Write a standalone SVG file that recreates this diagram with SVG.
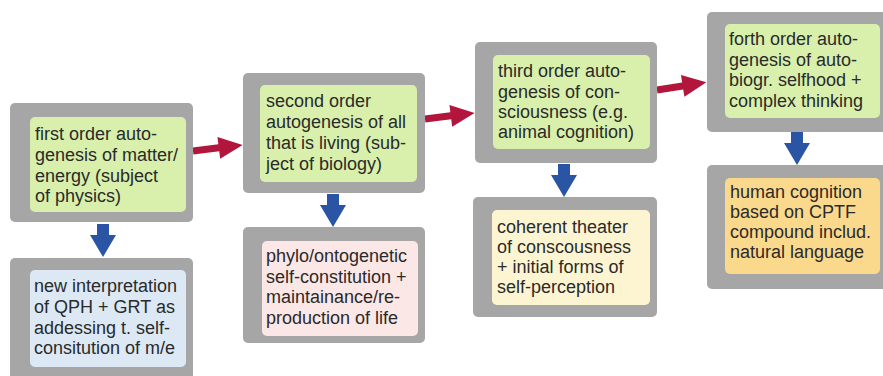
<svg xmlns="http://www.w3.org/2000/svg" width="883" height="376" viewBox="0 0 883 376">
  <style>
    .frame { fill: #a6a6a6; }
    .green { fill: #d8f0ac; }
    .blue { fill: #dce9f5; }
    .pink { fill: #fbe7e6; }
    .cream { fill: #fdf5d2; }
    .orange { fill: #fbd98c; }
    .label { font-family: "Liberation Sans", Arial, sans-serif; font-size: 18px; fill: #2a2a2a; }
    .next { fill: #b3163d; }
    .down { fill: #2a55a4; }
  </style>
  <defs>
    <!-- horizontal step arrow, 50 long, pointing along +x -->
    <path id="stepArrow" d="M0,-3.5 L26,-3.5 L26,-11 L50,0 L26,11 L26,3.5 L0,3.5 Z"/>
    <!-- vertical result arrow, 33 long, pointing down -->
    <path id="resultArrow" d="M-6,0 L6,0 L6,11 L13,11 L0,33 L-13,11 L-6,11 Z"/>
  </defs>
  <rect width="883" height="376" fill="#ffffff"/>

  <g id="connectors">
    <use href="#stepArrow" class="next" transform="translate(193,151) rotate(-7)"/>
    <use href="#stepArrow" class="next" transform="translate(425,119) rotate(-7)"/>
    <use href="#stepArrow" class="next" transform="translate(657,90) rotate(-9)"/>
    <use href="#resultArrow" class="down" transform="translate(103,224)"/>
    <use href="#resultArrow" class="down" transform="translate(333,194)"/>
    <use href="#resultArrow" class="down" transform="translate(564,164)"/>
    <use href="#resultArrow" class="down" transform="translate(797,132)"/>
  </g>

  <g id="first-order">
    <rect class="frame" x="10" y="103" width="183" height="119" rx="5"/>
    <rect class="green" x="30" y="117" width="156" height="95" rx="5"/>
    <text class="label">
      <tspan x="35" y="140">first order auto-</tspan>
      <tspan x="35" y="161">genesis of matter/</tspan>
      <tspan x="35" y="181.5">energy (subject</tspan>
      <tspan x="35" y="202">of physics)</tspan>
    </text>
  </g>

  <g id="first-order-result">
    <rect class="frame" x="10" y="258" width="183" height="125" rx="5"/>
    <rect class="blue" x="30" y="270" width="156" height="97" rx="5"/>
    <text class="label">
      <tspan x="34" y="292">new interpretation</tspan>
      <tspan x="34" y="313">of QPH + GRT as</tspan>
      <tspan x="34" y="333.5">addessing t. self-</tspan>
      <tspan x="34" y="354">consitution of m/e</tspan>
    </text>
  </g>

  <g id="second-order">
    <rect class="frame" x="243" y="73" width="182" height="120" rx="5"/>
    <rect class="green" x="260" y="85" width="157" height="97" rx="5"/>
    <text class="label">
      <tspan x="266" y="107">second order</tspan>
      <tspan x="266" y="128">autogenesis of all</tspan>
      <tspan x="266" y="149">that is living (sub-</tspan>
      <tspan x="266" y="170">ject of biology)</tspan>
    </text>
  </g>

  <g id="second-order-result">
    <rect class="frame" x="243" y="227" width="182" height="116" rx="5"/>
    <rect class="pink" x="262" y="241" width="156" height="95" rx="5"/>
    <text class="label">
      <tspan x="266" y="262">phylo/ontogenetic</tspan>
      <tspan x="266" y="282.5">self-constitution +</tspan>
      <tspan x="266" y="303">maintainance/re-</tspan>
      <tspan x="266" y="323.5">production of life</tspan>
    </text>
  </g>

  <g id="third-order">
    <rect class="frame" x="475" y="42" width="182" height="121" rx="5"/>
    <rect class="green" x="493" y="55" width="157" height="94" rx="5"/>
    <text class="label">
      <tspan x="498" y="77">third order auto-</tspan>
      <tspan x="498" y="97.5">genesis of con-</tspan>
      <tspan x="498" y="118">sciousness (e.g.</tspan>
      <tspan x="498" y="138">animal cognition)</tspan>
    </text>
  </g>

  <g id="third-order-result">
    <rect class="frame" x="473" y="197" width="184" height="120" rx="5"/>
    <rect class="cream" x="492" y="210" width="158" height="95" rx="5"/>
    <text class="label">
      <tspan x="497" y="233">coherent theater</tspan>
      <tspan x="497" y="253">of conscousness</tspan>
      <tspan x="497" y="273">+ initial forms of</tspan>
      <tspan x="497" y="293">self-perception</tspan>
    </text>
  </g>

  <g id="fourth-order">
    <rect class="frame" x="707" y="12" width="180" height="120" rx="5"/>
    <rect class="green" x="725" y="24" width="155" height="94" rx="5"/>
    <text class="label">
      <tspan x="729" y="45">forth order auto-</tspan>
      <tspan x="729" y="66">genesis of auto-</tspan>
      <tspan x="729" y="86">biogr. selfhood +</tspan>
      <tspan x="729" y="107">complex thinking</tspan>
    </text>
  </g>

  <g id="fourth-order-result">
    <rect class="frame" x="707" y="165" width="180" height="124" rx="5"/>
    <rect class="orange" x="725" y="178" width="155" height="96" rx="5"/>
    <text class="label">
      <tspan x="730" y="198">human cognition</tspan>
      <tspan x="730" y="218">based on CPTF</tspan>
      <tspan x="730" y="238">compound includ.</tspan>
      <tspan x="730" y="258">natural language</tspan>
    </text>
  </g>
</svg>
